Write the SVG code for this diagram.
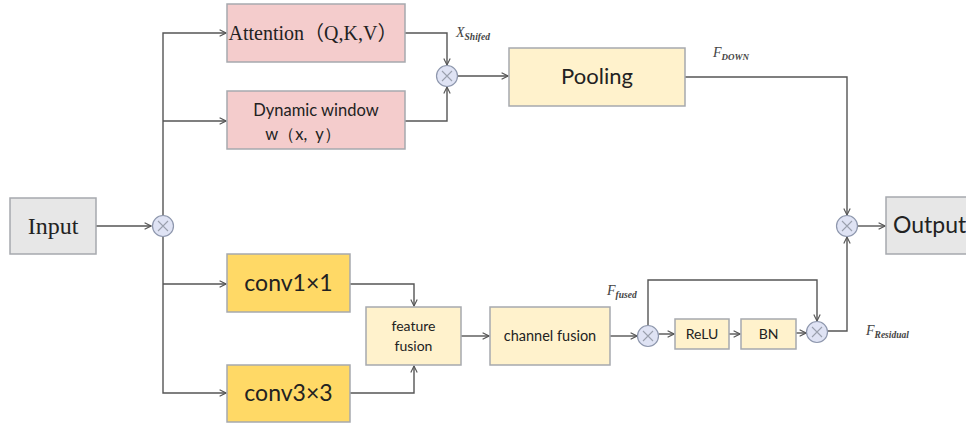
<svg xmlns="http://www.w3.org/2000/svg" width="966" height="425" viewBox="0 0 966 425">
<defs>
<marker id="arr" viewBox="0 0 10 10" refX="9" refY="5" markerWidth="8" markerHeight="8" markerUnits="userSpaceOnUse" orient="auto">
<path d="M1,1 L9,5 L1,9" fill="none" stroke="#555" stroke-width="1.4"/>
</marker>
<g id="mult">
<circle r="10.5" fill="#dfe3f4" stroke="#8e97ad" stroke-width="1.2"/>
<path d="M-5,-5 L5,5 M5,-5 L-5,5" stroke="#9aa0ad" stroke-width="1.1"/>
</g>
</defs>
<style>
.box{stroke:#a6a9ae;stroke-width:1.5}
.pink{fill:#f4cccc}
.cream{fill:#fff2cc}
.gold{fill:#ffd966}
.grey{fill:#e7e7e7}
.sans{font-family:Lato,"Liberation Sans",sans-serif;fill:#222}
.serif{font-family:"Liberation Serif","Noto Sans CJK SC",serif;fill:#222}
.lbl{font-family:"Liberation Serif",serif;font-style:italic;fill:#444}
.ln{fill:none;stroke:#555;stroke-width:1.4}
</style>
<rect width="966" height="425" fill="#fff"/>

<g id="connectors">
<path class="ln" d="M96,226 H151" marker-end="url(#arr)"/>
<path class="ln" d="M163,215.5 V33 H226" marker-end="url(#arr)"/>
<path class="ln" d="M163,121 H226" marker-end="url(#arr)"/>
<path class="ln" d="M163,236.5 V393 H226" marker-end="url(#arr)"/>
<path class="ln" d="M163,284 H226" marker-end="url(#arr)"/>
<path class="ln" d="M405,33 H447 V65" marker-end="url(#arr)"/>
<path class="ln" d="M405,121 H447 V87" marker-end="url(#arr)"/>
<path class="ln" d="M457.5,76 H508" marker-end="url(#arr)"/>
<path class="ln" d="M685,77 H847 V215" marker-end="url(#arr)"/>
<path class="ln" d="M857.5,226 H885" marker-end="url(#arr)"/>
<path class="ln" d="M350,284 H414 V306" marker-end="url(#arr)"/>
<path class="ln" d="M350,393 H414 V366" marker-end="url(#arr)"/>
<path class="ln" d="M461,336 H489" marker-end="url(#arr)"/>
<path class="ln" d="M610,336 H637" marker-end="url(#arr)"/>
<path class="ln" d="M658.5,334 H674" marker-end="url(#arr)"/>
<path class="ln" d="M729,334 H740" marker-end="url(#arr)"/>
<path class="ln" d="M796,333 H806" marker-end="url(#arr)"/>
<path class="ln" d="M648,325.5 V280 H817 V321" marker-end="url(#arr)"/>
<path class="ln" d="M827.5,331 H847 V237" marker-end="url(#arr)"/>
</g>

<g id="input"><rect class="box grey" x="10" y="198" width="86" height="56"/><text class="serif" x="53" y="234" font-size="24" text-anchor="middle">Input</text></g>
<g id="mult-in"><use href="#mult" x="163" y="226"/></g>
<g id="attention"><rect class="box pink" x="227" y="4" width="178" height="58"/><text class="serif" x="313" y="40" font-size="20" text-anchor="middle">Attention（Q,K,V）</text></g>
<g id="dynamic-window"><rect class="box pink" x="227" y="91" width="178" height="58"/><text class="sans" x="316" y="116" font-size="16.5" text-anchor="middle">Dynamic window</text><text class="sans" x="303" y="140" font-size="16.5" text-anchor="middle">w（x,&#160;&#160;y）</text></g>
<g id="mult-shift"><use href="#mult" x="447" y="76"/></g>
<g id="pooling"><rect class="box cream" x="509" y="48" width="176" height="58"/><text class="sans" x="597" y="84" font-size="22" text-anchor="middle">Pooling</text></g>
<g id="mult-out"><use href="#mult" x="847" y="226"/></g>
<g id="output"><rect class="box grey" x="886" y="197" width="90" height="57"/><text class="sans" x="893" y="233" font-size="23">Output</text></g>
<g id="conv1"><rect class="box gold" x="227" y="254" width="123" height="58"/><text class="sans" x="288.5" y="291" font-size="23" text-anchor="middle">conv1×1</text></g>
<g id="conv3"><rect class="box gold" x="227" y="365" width="123" height="57"/><text class="sans" x="288.5" y="401" font-size="23" text-anchor="middle">conv3×3</text></g>
<g id="feature-fusion"><rect class="box cream" x="366" y="307" width="95" height="58"/><text class="sans" x="413.5" y="331" font-size="14" text-anchor="middle">feature</text><text class="sans" x="413.5" y="351" font-size="14" text-anchor="middle">fusion</text></g>
<g id="channel-fusion"><rect class="box cream" x="490" y="307" width="120" height="58"/><text class="sans" x="550" y="341" font-size="14.5" text-anchor="middle">channel fusion</text></g>
<g id="mult-fused"><use href="#mult" x="648" y="336"/></g>
<g id="relu"><rect class="box cream" x="675" y="319" width="54" height="30"/><text class="sans" x="702" y="339" font-size="14" text-anchor="middle">ReLU</text></g>
<g id="bn"><rect class="box cream" x="741" y="319" width="55" height="30"/><text class="sans" x="768.5" y="339" font-size="14" text-anchor="middle">BN</text></g>
<g id="mult-res"><use href="#mult" x="817" y="332"/></g>

<g id="labels">
<text class="lbl" x="456" y="37" font-size="14">X<tspan font-size="9.5" font-weight="bold" dy="3">Shifed</tspan></text>
<text class="lbl" x="713" y="57" font-size="14">F<tspan font-size="9" font-weight="bold" dy="3">DOWN</tspan></text>
<text class="lbl" x="607" y="295" font-size="14">F<tspan font-size="9.5" font-weight="bold" dy="3">fused</tspan></text>
<text class="lbl" x="866" y="335" font-size="14">F<tspan font-size="9.5" font-weight="bold" dy="3">Residual</tspan></text>
</g>
</svg>
